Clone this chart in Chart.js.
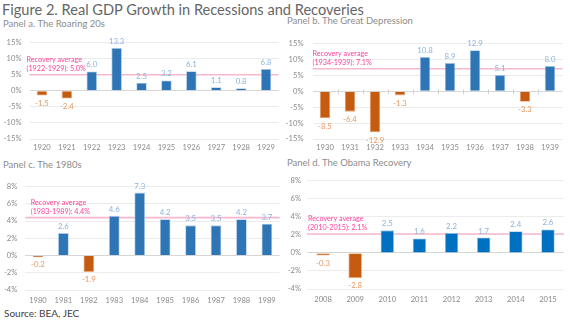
<!DOCTYPE html>
<html>
<head>
<meta charset="utf-8">
<script src="https://cdn.jsdelivr.net/npm/chart.js@4.4.1/dist/chart.umd.min.js"></script>
<style>
  body { margin: 0; background: #fff; font-family: Lato, sans-serif; }
  #page { position: relative; width: 570px; height: 321px; overflow: hidden; }
  .txt { position: absolute; white-space: nowrap; line-height: 1; }
  .box { position: absolute; }
</style>
</head>
<body>
<div id="page">
  <div class="txt" style="left:2px;top:3px;font-size:14.6px;color:#666">Figure 2. Real GDP Growth in Recessions and Recoveries</div>
  <div class="txt" style="left:3px;top:19px;font-size:9.5px;color:#8c8c8c">Panel a. The Roaring 20s</div>
  <div class="txt" style="left:287px;top:16px;font-size:9.5px;color:#8c8c8c">Panel b. The Great Depression</div>
  <div class="txt" style="left:3px;top:160px;font-size:9.5px;color:#8c8c8c">Panel c. The 1980s</div>
  <div class="txt" style="left:287px;top:158px;font-size:9.5px;color:#8c8c8c">Panel d. The Obama Recovery</div>
  <div class="txt" style="left:4px;top:308px;font-size:10px;color:#404040">Source: BEA, JEC</div>

  <div class="box" style="left:0;top:30px;width:282px;height:130px"><canvas id="panelA"></canvas></div>
  <div class="box" style="left:285px;top:30px;width:285px;height:130px"><canvas id="panelB"></canvas></div>
  <div class="box" style="left:0;top:174px;width:282px;height:134px"><canvas id="panelC"></canvas></div>
  <div class="box" style="left:285px;top:170px;width:285px;height:140px"><canvas id="panelD"></canvas></div>
</div>

<script>
// Real GDP growth, percent per year
const yearsA = ["1920", "1921", "1922", "1923", "1924", "1925", "1926", "1927", "1928", "1929"];
const growthA = [-1.5, -2.4, 6.0, 13.3, 2.5, 3.2, 6.1, 1.1, 0.8, 6.8];
const recoveryA = { years: "1922-1929", avg: 5.0 };

const yearsB = ["1930", "1931", "1932", "1933", "1934", "1935", "1936", "1937", "1938", "1939"];
const growthB = [-8.5, -6.4, -12.9, -1.3, 10.8, 8.9, 12.9, 5.1, -3.3, 8.0];
const recoveryB = { years: "1934-1939", avg: 7.1 };

const yearsC = ["1980", "1981", "1982", "1983", "1984", "1985", "1986", "1987", "1988", "1989"];
const growthC = [-0.2, 2.6, -1.9, 4.6, 7.3, 4.2, 3.5, 3.5, 4.2, 3.7];
const recoveryC = { years: "1983-1989", avg: 4.4 };

const yearsD = ["2008", "2009", "2010", "2011", "2012", "2013", "2014", "2015"];
const growthD = [-0.3, -2.8, 2.5, 1.6, 2.2, 1.7, 2.4, 2.6];
const recoveryD = { years: "2010-2015", avg: 2.1 };

// y axis ranges (min, max, step)
const axisWide = [-15, 15, 5];
const axisNarrow = [-4, 8, 2];

const ORANGE = "#c55a11";
const ORANGE_EDGE = "#eaa676";
const ORANGE_TEXT = "#e39a63";
const BLUE_TEXT = "#8db3de";
const PINK_LINE = "#f7b8cd";
const PINK_TEXT = "#ff3f9b";
const AXIS_TEXT = "#8a8a8a";

// pink average line plus its two-line note, drawn behind the bars
const recoveryLine = {
  id: "recoveryLine",
  beforeDatasetsDraw(chart, args, opts) {
    const { ctx, chartArea } = chart;
    const y = chart.scales.y.getPixelForValue(opts.avg);
    ctx.save();
    ctx.strokeStyle = PINK_LINE;
    ctx.lineWidth = 1.6;
    ctx.beginPath();
    ctx.moveTo(chartArea.left, y);
    ctx.lineTo(chartArea.right, y);
    ctx.stroke();
    ctx.fillStyle = PINK_TEXT;
    ctx.font = "7.2px Lato";
    ctx.textAlign = "left";
    ctx.textBaseline = "alphabetic";
    const x = chartArea.left + opts.dx;
    ctx.fillText("Recovery average", x, y - 12.5);
    ctx.fillText("(" + opts.years + "): " + opts.avg.toFixed(1) + "%", x, y - 3.5);
    ctx.restore();
  }
};

// value labels above positive bars and below negative ones
const valueLabels = {
  id: "valueLabels",
  afterDatasetsDraw(chart) {
    const { ctx } = chart;
    const meta = chart.getDatasetMeta(0);
    const values = chart.data.datasets[0].data;
    ctx.save();
    ctx.font = "7.8px Lato";
    ctx.textAlign = "center";
    ctx.textBaseline = "alphabetic";
    meta.data.forEach((bar, i) => {
      const v = values[i];
      if (v < 0) {
        ctx.fillStyle = ORANGE_TEXT;
        ctx.fillText(v.toFixed(1), bar.x, bar.y + 10.2);
      } else {
        ctx.fillStyle = BLUE_TEXT;
        ctx.fillText(v.toFixed(1), bar.x, bar.y - 4);
      }
    });
    ctx.restore();
  }
};

// small tick marks on the zero line between categories
const zeroTicks = {
  id: "zeroTicks",
  afterDraw(chart, args, opts) {
    if (!opts.show) return;
    const { ctx } = chart;
    const xs = chart.scales.x;
    const y = chart.scales.y.getPixelForValue(0);
    const step = (xs.right - xs.left) / chart.data.labels.length;
    ctx.save();
    ctx.strokeStyle = "#d0d0d0";
    ctx.lineWidth = 1;
    ctx.beginPath();
    for (let i = 1; i < chart.data.labels.length; i++) {
      const x = Math.round(xs.left + step * i) + 0.5;
      ctx.moveTo(x, y - 2);
      ctx.lineTo(x, y + 3);
    }
    ctx.stroke();
    ctx.restore();
  }
};

function drawPanel(id, years, values, recovery, axis, layout) {
  const blue = layout.blue;
  return new Chart(document.getElementById(id), {
    type: "bar",
    data: {
      labels: years,
      datasets: [{
        data: values,
        backgroundColor: values.map(v => v < 0 ? ORANGE : blue),
        borderColor: values.map(v => v < 0 ? ORANGE_EDGE : layout.edge),
        borderWidth: 0.8,
        barPercentage: 0.42,
        categoryPercentage: 1,
      }],
    },
    options: {
      responsive: true,
      maintainAspectRatio: false,
      animation: false,
      layout: { padding: { left: 0, right: layout.right, top: layout.top, bottom: 0 } },
      plugins: {
        legend: { display: false },
        tooltip: { enabled: false },
        recoveryLine: { avg: recovery.avg, years: recovery.years, dx: layout.noteX },
        zeroTicks: { show: !!layout.zeroTicks },
      },
      scales: {
        x: {
          grid: { display: false, drawTicks: false },
          border: { display: false },
          ticks: {
            color: AXIS_TEXT,
            font: { family: "Lato", size: 7.6 },
            padding: layout.xPad,
            maxRotation: 0,
            autoSkip: false,
          },
          afterFit(scale) { scale.height = layout.xHeight; },
        },
        y: {
          min: axis[0],
          max: axis[1],
          ticks: {
            stepSize: axis[2],
            color: AXIS_TEXT,
            font: { family: "Lato", size: 7.6 },
            padding: layout.yPad,
            callback: v => v + "%",
          },
          grid: {
            drawTicks: false,
            color: ctx => ctx.tick && ctx.tick.value === 0 ? "#d6d6d6" : "#ececec",
            lineWidth: 1,
          },
          border: { display: false },
          afterFit(scale) { scale.width = layout.yWidth; },
        },
      },
    },
    plugins: [recoveryLine, valueLabels, zeroTicks],
  });
}

drawPanel("panelA", yearsA, growthA, recoveryA, axisWide, {
  blue: "#2e75b6", edge: "#a9c8e8", right: 3.5, top: 11, yWidth: 29.5, yPad: 8,
  xHeight: 21, xPad: 4.4, noteX: -3,
});
drawPanel("panelB", yearsB, growthB, recoveryB, axisWide, {
  blue: "#2e75b6", edge: "#a9c8e8", right: 7.5, top: 11, yWidth: 27.5, yPad: 9,
  xHeight: 21, xPad: 4.4, noteX: 0, zeroTicks: true,
});
drawPanel("panelC", yearsC, growthC, recoveryC, axisNarrow, {
  blue: "#2e75b6", edge: "#a9c8e8", right: 1.75, top: 10, yWidth: 25.25, yPad: 8,
  xHeight: 18, xPad: 6.2, noteX: 5.5,
});
drawPanel("panelD", yearsD, growthD, recoveryD, axisNarrow, {
  blue: "#0070c0", edge: "#9cc7ea", right: 6, top: 10.7, yWidth: 22, yPad: 6,
  xHeight: 21, xPad: 6, noteX: 1,
});
</script>
</body>
</html>
